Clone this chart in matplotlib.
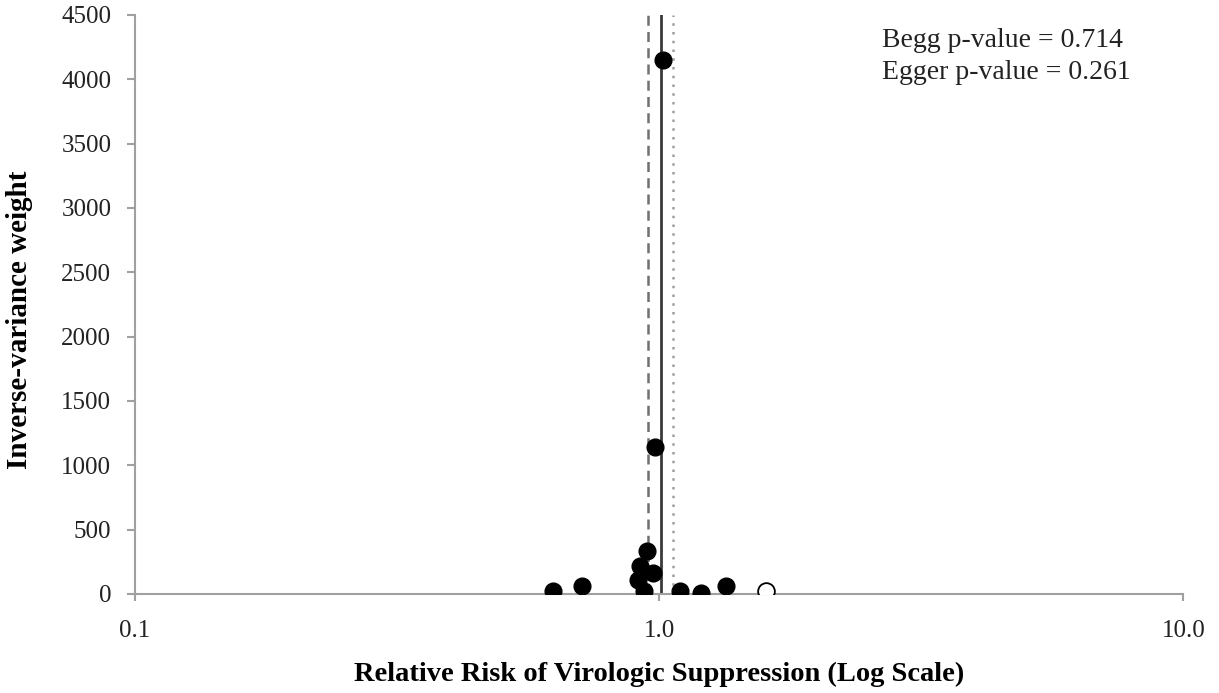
import numpy as np
import matplotlib
matplotlib.use('Agg')
import matplotlib.pyplot as plt
from matplotlib.ticker import FixedLocator, NullLocator

# Study estimates: relative risk and inverse-variance weight
rr_filled = [0.628, 0.712, 0.913, 0.920, 0.936, 0.949, 0.975, 0.983, 1.018,
             1.098, 1.203, 1.341]
weight_filled = [21, 60, 109, 220, 26, 336, 160, 1140, 4150, 21, 8, 60]
# Imputed (trim-and-fill) study
rr_open = [1.598]
weight_open = [21]

# Reference lines
rr_pooled = 1.007
rr_dashed = 0.954
rr_dotted = 1.062

x_ticks = [0.1, 1.0, 10.0]
x_ticklabels = ['0.1', '1.0', '10.0']
y_ticks = [0, 500, 1000, 1500, 2000, 2500, 3000, 3500, 4000, 4500]

plt.rcParams['font.family'] = ['Liberation Serif', 'DejaVu Serif']

fig = plt.figure(figsize=(12.19, 6.93), dpi=100)
ax = fig.add_axes([0.1107, 0.1429, 0.8600, 0.8355])

ax.axvline(rr_dashed, color='#707070', lw=1.8, ls=(0, (4, 2.5)), zorder=1)
ax.axvline(rr_pooled, color='#3a3a3a', lw=2.0, zorder=1)
ax.axvline(rr_dotted, color='#a0a0a0', lw=1.8, ls=(0, (1, 2.5)), zorder=1)

ax.scatter(rr_filled, weight_filled, s=145, color='black', zorder=3)
ax.scatter(rr_open, weight_open, s=145, facecolor='white', edgecolor='black',
           linewidth=1.3, zorder=3)

ax.set_xscale('log')
ax.set_xlim(0.1, 10.0)
ax.set_ylim(0, 4500)
ax.xaxis.set_major_locator(FixedLocator(x_ticks))
ax.xaxis.set_minor_locator(NullLocator())
ax.set_xticks(x_ticks)
ax.set_xticklabels(x_ticklabels)
ax.set_yticks(y_ticks)

for side in ['top', 'right']:
    ax.spines[side].set_visible(False)
for side in ['left', 'bottom']:
    ax.spines[side].set_color('#a0a0a0')
    ax.spines[side].set_linewidth(1.5)
ax.tick_params(axis='both', colors='#a0a0a0', labelcolor='#222222',
               labelsize=18, width=1.5)
ax.tick_params(axis='y', direction='out', length=6, pad=11)
ax.tick_params(axis='x', direction='out', length=5, pad=14)

ax.set_ylabel('Inverse-variance weight', fontsize=21, fontweight='bold')
ax.yaxis.set_label_coords(-0.0973, 0.473)
ax.set_xlabel('Relative Risk of Virologic Suppression (Log Scale)',
              fontsize=20.5, fontweight='bold', va='top')
ax.xaxis.set_label_coords(0.5, -0.118)

ax.text(0.7128, 0.9447, 'Begg p-value = 0.714', transform=ax.transAxes,
        fontsize=20, va='baseline', ha='left', color='#222222')
ax.text(0.7128, 0.8900, 'Egger p-value = 0.261', transform=ax.transAxes,
        fontsize=20, va='baseline', ha='left', color='#222222')

fig.savefig('out.png', dpi=100)
